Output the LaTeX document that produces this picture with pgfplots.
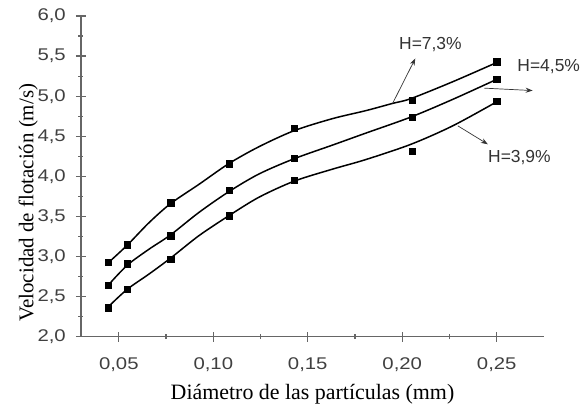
\documentclass[border=0pt]{standalone}
\usepackage{fontspec}
\setmainfont{Liberation Serif}
\setsansfont{Liberation Sans}
\newfontfamily\tickfont[FakeStretch=1.2]{Liberation Sans}
\usepackage{pgfplots}
\pgfplotsset{compat=1.18}
\usetikzlibrary{arrows.meta}

% fitted curves
\pgfplotstableread{
x      y
0.0443 2.92
0.0544 3.14
0.0659 3.42
0.0774 3.66
0.0924 3.90
0.1083 4.16
0.1242 4.37
0.1428 4.57
0.1631 4.72
0.1808 4.82
0.1949 4.91
0.2046 4.97
0.2267 5.18
0.2500 5.42
}\fitA
\pgfplotstableread{
x      y
0.0443 2.64
0.0544 2.89
0.0659 3.09
0.0774 3.27
0.0924 3.55
0.1083 3.81
0.1242 4.03
0.1428 4.22
0.1631 4.39
0.1808 4.54
0.2046 4.74
0.2267 4.96
0.2500 5.21
}\fitB
\pgfplotstableread{
x      y
0.0443 2.37
0.0544 2.59
0.0659 2.78
0.0774 2.98
0.0924 3.26
0.1083 3.51
0.1242 3.74
0.1428 3.94
0.1631 4.09
0.1808 4.21
0.2046 4.40
0.2267 4.63
0.2500 4.93
}\fitC
% measured points
\pgfplotstableread{
x      a    b    c
0.0443 2.93 2.64 2.36
0.0544 3.15 2.91 2.59
0.0774 3.67 3.26 2.97
0.1083 4.16 3.83 3.51
0.1428 4.60 4.23 3.95
0.2052 4.95 4.74 4.31
0.2500 5.43 5.21 4.94
}\points

\begin{document}
\begin{tikzpicture}
\begin{axis}[
    scale only axis,
    width=463bp, height=320.7bp,
    xmin=0.03, xmax=0.275, ymin=2, ymax=6,
    axis lines=left,
    axis line style={-, draw=black!60, line width=1.4bp},
    xtick={0.05,0.10,0.15,0.20,0.25},
    xticklabels={{0,05},{0,10},{0,15},{0,20},{0,25}},
    ytick={2,2.5,3,3.5,4,4.5,5,5.5,6},
    yticklabels={{2,0},{2,5},{3,0},{3,5},{4,0},{4,5},{5,0},{5,5},{6,0}},
    minor x tick num=1, minor y tick num=1,
    tick align=center,
    major tick length=10bp, minor tick length=5bp,
    every tick/.style={draw=black!60, line width=1.2bp},
    ticklabel style={font=\tickfont\fontsize{17}{17}\selectfont, text=black!75},
    xticklabel style={anchor=north, inner sep=0pt, yshift=-16bp},
    yticklabel style={anchor=east, inner sep=0pt, xshift=-10bp},
    xlabel={Diámetro de las partículas (mm)},
    ylabel={Velocidad de flotación (m/s)},
    xlabel style={font=\fontsize{22}{22}\selectfont, at={(axis description cs:0.5,-0.197)}, anchor=base},
    ylabel style={font=\fontsize{21}{21}\selectfont, at={(axis description cs:-0.103,0.418)}, anchor=base},
    clip=false,
]
\addplot[black, line width=1.5bp, smooth, tension=0.5] table[x=x,y=y] {\fitA};
\addplot[black, line width=1.5bp, smooth, tension=0.5] table[x=x,y=y] {\fitB};
\addplot[black, line width=1.5bp, smooth, tension=0.5] table[x=x,y=y] {\fitC};
\addplot[only marks, mark=square*, mark size=3.2bp, black] table[x=x,y=a] {\points};
\addplot[only marks, mark=square*, mark size=3.2bp, black] table[x=x,y=b] {\points};
\addplot[only marks, mark=square*, mark size=3.2bp, black] table[x=x,y=c] {\points};

\draw[black!80, line width=0.7bp, -{Stealth[length=7bp,width=5bp]}] (axis cs:0.1949,4.91) -- (axis cs:0.2069,5.47);
\draw[black!80, line width=0.7bp, -{Stealth[length=7bp,width=5bp]}] (axis cs:0.2435,5.10) -- (axis cs:0.2690,5.07);
\draw[black!80, line width=0.7bp, -{Stealth[length=7bp,width=5bp]}] (axis cs:0.2294,4.63) -- (axis cs:0.2453,4.40);
\node[font=\sffamily\fontsize{17.5}{17.5}\selectfont, text=black!80] at (axis cs:0.2149,5.64) {H=7,3\%};
\node[font=\sffamily\fontsize{17.5}{17.5}\selectfont, text=black!80] at (axis cs:0.2775,5.37) {H=4,5\%};
\node[font=\sffamily\fontsize{17.5}{17.5}\selectfont, text=black!80] at (axis cs:0.2620,4.24) {H=3,9\%};
\end{axis}
\path (-81bp,-71.3bp) rectangle (506bp,336.7bp);
\end{tikzpicture}
\end{document}
